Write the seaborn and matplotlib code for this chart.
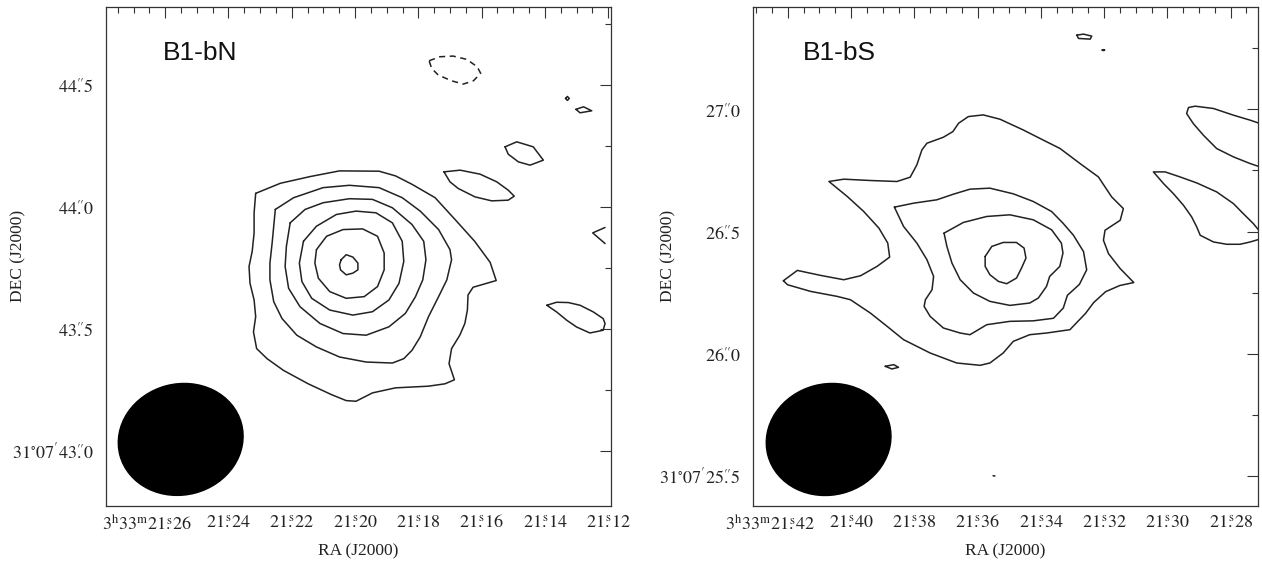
import numpy as np
import pandas as pd
import matplotlib
matplotlib.use("Agg")
import matplotlib.pyplot as plt
import seaborn as sns
from matplotlib.patches import Ellipse
from matplotlib.transforms import Affine2D, ScaledTranslation
from matplotlib.ticker import MultipleLocator

# ------------------------------------------------------------------
# DATA  (RA in seconds after 3h33m, Dec in arcsec after +31d07m)
# ------------------------------------------------------------------
# ---- B1-bN ----
BN_C1_RA = [21.2314, 21.2236, 21.2142, 21.2049, 21.1924, 21.1872, 21.1820, 21.1747, 21.1684, 21.1622,
            21.1573, 21.1554, 21.1627, 21.1643, 21.1645, 21.1653, 21.1669, 21.1695, 21.1703, 21.1686,
            21.1716, 21.1768, 21.1872, 21.1945, 21.1997, 21.2028, 21.2075, 21.2148, 21.2226, 21.2278,
            21.2311, 21.2321, 21.2314, 21.2319, 21.2332, 21.2335, 21.2325, 21.2319, 21.2319]
BN_C1_DEC = [44.0556, 44.0969, 44.1244, 44.1477, 44.1464, 44.1271, 44.0927, 44.0378, 43.9484, 43.8591,
             43.7725, 43.6982, 43.6707, 43.6391, 43.5773, 43.5223, 43.4742, 43.4192, 43.3573, 43.2914,
             43.2749, 43.2652, 43.2584, 43.2377, 43.2034, 43.2061, 43.2309, 43.2749, 43.3298, 43.3780,
             43.4192, 43.4879, 43.5498, 43.6185, 43.6872, 43.7560, 43.8178, 43.8934, 43.9759]
BN_C2_RA = [21.2252, 21.2194, 21.2101, 21.2018, 21.1924, 21.1851, 21.1794, 21.1736, 21.1700, 21.1695,
            21.1710, 21.1736, 21.1768, 21.1794, 21.1820, 21.1846, 21.1882, 21.1965, 21.2049, 21.2122,
            21.2184, 21.2231, 21.2257, 21.2269, 21.2269, 21.2262, 21.2257]
BN_C2_DEC = [43.9896, 44.0378, 44.0790, 44.0886, 44.0790, 44.0378, 43.9828, 43.9072, 43.8247, 43.7835,
             43.7010, 43.6323, 43.5498, 43.4673, 43.4123, 43.3780, 43.3601, 43.3642, 43.3848, 43.4261,
             43.4742, 43.5429, 43.6116, 43.7010, 43.7697, 43.8522, 43.9209]
BN_C3_RA = [21.2205, 21.2158, 21.2101, 21.2018, 21.1945, 21.1882, 21.1820, 21.1783, 21.1776, 21.1786,
            21.1809, 21.1841, 21.1893, 21.1965, 21.2038, 21.2111, 21.2174, 21.2210, 21.2221, 21.2217]
BN_C3_DEC = [43.9347, 43.9896, 44.0171, 44.0336, 44.0309, 43.9965, 43.9278, 43.8591, 43.7835, 43.7010,
             43.6323, 43.5635, 43.5085, 43.4742, 43.4810, 43.5223, 43.5910, 43.6666, 43.7560, 43.8384]
BN_C4_RA = [21.2163, 21.2122, 21.2059, 21.1997, 21.1934, 21.1882, 21.1851, 21.1846, 21.1861, 21.1893,
            21.1945, 21.2007, 21.2080, 21.2137, 21.2168, 21.2176]
BN_C4_DEC = [43.8591, 43.9209, 43.9690, 43.9828, 43.9759, 43.9347, 43.8591, 43.7766, 43.6872, 43.6185,
             43.5704, 43.5566, 43.5773, 43.6254, 43.6941, 43.7697]
BN_C5_RA = [21.2122, 21.2090, 21.2038, 21.1976, 21.1929, 21.1908, 21.1908, 21.1929, 21.1971, 21.2028,
            21.2080, 21.2116, 21.2127]
BN_C5_DEC = [43.8247, 43.8797, 43.9072, 43.9099, 43.8797, 43.8109, 43.7422, 43.6735, 43.6323, 43.6254,
             43.6529, 43.7079, 43.7697]
BN_C6_RA = [21.2044, 21.2028, 21.2007, 21.1991, 21.1991, 21.2007, 21.2028, 21.2046, 21.2049]
BN_C6_DEC = [43.7835, 43.8041, 43.7945, 43.7697, 43.7422, 43.7285, 43.7216, 43.7422, 43.7628]
# small positive islands
BN_S1_RA = [21.1719, 21.1668, 21.1605, 21.1552, 21.1516, 21.1497, 21.1516, 21.1568, 21.1621, 21.1674, 21.1700]
BN_S1_DEC = [44.1437, 44.1507, 44.1343, 44.1027, 44.0687, 44.0441, 44.0277, 44.0248, 44.0412, 44.0756, 44.1027]
BN_S2_RA = [21.1526, 21.1489, 21.1437, 21.1405, 21.1447, 21.1484, 21.1516]
BN_S2_DEC = [44.2463, 44.2668, 44.2463, 44.1917, 44.1712, 44.1848, 44.2163]
BN_S3_RA = [21.1335, 21.1329, 21.1323, 21.1329]
BN_S3_DEC = [44.4447, 44.4527, 44.4447, 44.4367]
BN_S4_RA = [21.1302, 21.1278, 21.1252, 21.1289]
BN_S4_DEC = [44.4000, 44.4104, 44.3940, 44.3858]
BN_S5_RA = [21.1394, 21.1363, 21.1326, 21.1289, 21.1247, 21.1216, 21.1210, 21.1216, 21.1258, 21.1300, 21.1331, 21.1363]
BN_S5_DEC = [43.5969, 43.6092, 43.6080, 43.5969, 43.5695, 43.5424, 43.5219, 43.4944, 43.4833, 43.5079, 43.5354, 43.5695]
BN_OPEN_RA = [21.1210, 21.1249, 21.1210]
BN_OPEN_DEC = [43.9157, 43.8935, 43.8500]
# negative (dashed) contour
BN_NEG_RA = [21.1766, 21.1732, 21.1690, 21.1647, 21.1614, 21.1603, 21.1626, 21.1658, 21.1695, 21.1737, 21.1758]
BN_NEG_DEC = [44.5991, 44.6155, 44.6183, 44.6048, 44.5745, 44.5474, 44.5170, 44.5035, 44.5170, 44.5404, 44.5679]

# ---- B1-bS ----
BS_C1_RA = [21.4214, 21.4170, 21.4096, 21.4023, 21.3970, 21.3918, 21.3878, 21.3884, 21.3912, 21.3960,
            21.4012, 21.4070, 21.4023, 21.3939, 21.3855, 21.3813, 21.3792, 21.3776, 21.3760, 21.3708,
            21.3678, 21.3660, 21.3629, 21.3582, 21.3529, 21.3456,
            21.3402, 21.3339, 21.3276, 21.3218, 21.3176, 21.3139, 21.3149, 21.3197, 21.3202, 21.3186,
            21.3149, 21.3118,
            21.3106, 21.3150, 21.3195, 21.3233, 21.3259,
            21.3308, 21.3382, 21.3435, 21.3487, 21.3519, 21.3561, 21.3592, 21.3666, 21.3750, 21.3834,
            21.3886, 21.3939, 21.4002, 21.4044, 21.4128, 21.4201]
BS_C1_DEC = [26.2985, 26.3408, 26.3203, 26.3026, 26.3190, 26.3572, 26.3953, 26.4526, 26.5140, 26.5821,
             26.6435, 26.7049, 26.7144, 26.7090, 26.7049, 26.7226, 26.7731, 26.8344, 26.8617, 26.8862,
             26.9094, 26.9435, 26.9708, 26.9776, 26.9599, 26.9162,
             26.8808, 26.8399, 26.7784, 26.7237, 26.6418, 26.5940, 26.5461, 26.5052, 26.4642, 26.4095,
             26.3481, 26.3071,
             26.2911, 26.2791, 26.2538, 26.2090, 26.1642,
             26.0981, 26.0844, 26.0776, 26.0504, 26.0026, 25.9617, 25.9522, 25.9617, 26.0026, 26.0572,
             26.1117, 26.1662, 26.2208, 26.2344, 26.2549, 26.2822]
BS_C2_RA = [21.3863, 21.3802, 21.3729, 21.3676, 21.3624, 21.3561, 21.3487, 21.3424, 21.3366, 21.3330,
            21.3297, 21.3265, 21.3255, 21.3278, 21.3316, 21.3329, 21.3360, 21.3424, 21.3498, 21.3571,
            21.3624, 21.3655, 21.3708, 21.3750, 21.3769, 21.3765, 21.3744, 21.3739, 21.3760, 21.3792,
            21.3834]
BS_C2_DEC = [26.5999, 26.6162, 26.6299, 26.6531, 26.6735, 26.6776, 26.6544, 26.6231, 26.5821, 26.5344,
             26.4851, 26.4179, 26.3433, 26.2836, 26.2388, 26.1866, 26.1448, 26.1343, 26.1322, 26.1185,
             26.0776, 26.0844, 26.1049, 26.1526, 26.1935, 26.2208, 26.2617, 26.3162, 26.3844, 26.4526,
             26.5208]
BS_C3_RA = [21.3706, 21.3645, 21.3571, 21.3498, 21.3424, 21.3366, 21.3335, 21.3330, 21.3340, 21.3372,
            21.3382, 21.3408, 21.3435, 21.3498, 21.3561, 21.3613, 21.3655, 21.3681, 21.3697]
BS_C3_DEC = [26.4935, 26.5372, 26.5617, 26.5685, 26.5481, 26.5072, 26.4526, 26.4117, 26.3572, 26.3162,
             26.2753, 26.2276, 26.2072, 26.1976, 26.2140, 26.2481, 26.3026, 26.3708, 26.4390]
BS_C4_RA = [21.3576, 21.3555, 21.3519, 21.3477, 21.3453, 21.3447, 21.3461, 21.3477, 21.3508, 21.3534,
            21.3561, 21.3576]
BS_C4_DEC = [26.3981, 26.4390, 26.4553, 26.4553, 26.4322, 26.3913, 26.3504, 26.3094, 26.2863, 26.2958,
             26.3231, 26.3572]
BS_S1_RA = [21.3892, 21.3865, 21.3850, 21.3871]
BS_S1_DEC = [25.9481, 25.9549, 25.9440, 25.9372]
BS_S2_RA = [21.3286, 21.3265, 21.3239, 21.3244, 21.3281]
BS_S2_DEC = [27.3043, 27.3084, 27.3002, 27.2879, 27.2907]
BS_S3_RA = [21.3206, 21.3202, 21.3198, 21.3202]
BS_S3_DEC = [27.2429, 27.2449, 27.2429, 27.2409]
BS_S4_RA = [21.3551, 21.3545]
BS_S4_DEC = [25.5000, 25.4990]
BS_E1_RA = [21.2707, 21.2738, 21.2791, 21.2854, 21.2912, 21.2933, 21.2939, 21.2918, 21.2886, 21.2844,
            21.2791, 21.2738, 21.2707]
BS_E1_DEC = [26.9423, 26.9560, 26.9765, 27.0038, 27.0133, 27.0079, 26.9833, 26.9423, 26.8945, 26.8399,
             26.8057, 26.7784, 26.7647]
BS_E2_RA = [21.2702, 21.2728, 21.2760, 21.2791, 21.2844, 21.2907, 21.2960, 21.3007, 21.3044, 21.3012,
            21.2981, 21.2949, 21.2923, 21.2907, 21.2896, 21.2854, 21.2812, 21.2770, 21.2738, 21.2702]
BS_E2_DEC = [26.4915, 26.5325, 26.5735, 26.6144, 26.6623, 26.6991, 26.7237, 26.7442, 26.7442, 26.6964,
             26.6554, 26.6076, 26.5598, 26.5188, 26.4847, 26.4573, 26.4478, 26.4478, 26.4573, 26.4710]

# synthesized beam (arcsec, deg)
BEAM_MAJ = 0.51
BEAM_MIN = 0.455
BEAM_PA = -15.0

# axis tick values
BN_RA_TICKS = [21.26, 21.24, 21.22, 21.20, 21.18, 21.16, 21.14, 21.12]
BN_DEC_TICKS = [43.0, 43.5, 44.0, 44.5]
BS_RA_TICKS = [21.42, 21.40, 21.38, 21.36, 21.34, 21.32, 21.30, 21.28]
BS_DEC_TICKS = [25.5, 26.0, 26.5, 27.0]

DEC_DEG = 31.12

# ------------------------------------------------------------------
sns.set_theme(style="white")
plt.rcParams["font.family"] = ["Liberation Serif", "DejaVu Serif"]
plt.rcParams["mathtext.fontset"] = "stix"

INK = "#222222"


def contour_df(parts):
    rows = []
    for cid, (ra, dec, closed) in enumerate(parts):
        ra = list(ra)
        dec = list(dec)
        if closed:
            ra = ra + ra[:1]
            dec = dec + dec[:1]
        for k, (r, d) in enumerate(zip(ra, dec)):
            rows.append((cid, k, r, d))
    return pd.DataFrame(rows, columns=["cid", "order", "ra", "dec"])


def draw(ax, parts, **kw):
    df = contour_df(parts)
    sns.lineplot(data=df, x="ra", y="dec", units="cid", estimator=None, sort=False,
                 ax=ax, legend=False, color=INK, linewidth=1.1, **kw)


def ra_label(v, first):
    s = f"{v:.2f}"
    whole, frac = s.split(".")
    if first:
        return r"$3^{\mathrm{h}}33^{\mathrm{m}}" + whole + r"\overset{\mathrm{s}}{.}" + frac + "$"
    return "$" + whole + r"\overset{\mathrm{s}}{.}" + frac + "$"


def dec_label(v, first):
    s = f"{v:.1f}"
    whole, frac = s.split(".")
    if first:
        return r"$31^{\circ}07^{\prime}" + whole + r"\overset{\prime\prime}{.}" + frac + "$"
    return "$" + whole + r"\overset{\prime\prime}{.}" + frac + "$"


def style_axes(fig, ax, xlim, ylim, xt, yt, title, title_x, label_x):
    ax.set_xlim(*xlim)
    ax.set_ylim(*ylim)
    ax.set_xticks(xt, [ra_label(v, i == 0) for i, v in enumerate(xt)])
    ax.set_yticks(yt, [dec_label(v, i == 0) for i, v in enumerate(yt)])
    ax.xaxis.set_minor_locator(MultipleLocator(0.005))
    ax.yaxis.set_minor_locator(MultipleLocator(0.25))
    ax.tick_params(which="both", direction="in", top=True, right=True, color="#333333",
                   width=0.8)
    ax.tick_params(which="major", length=8)
    ax.tick_params(which="minor", length=4)
    ax.tick_params(axis="x", which="major", labelsize=13, pad=6, labelcolor=INK)
    ax.tick_params(axis="y", which="major", labelsize=13, pad=9, labelcolor=INK)
    # first RA label (with h/m) extends to the left of its tick
    first = ax.get_xticklabels()[0]
    first.set_horizontalalignment("right")
    first.set_transform(first.get_transform() + ScaledTranslation(0.27, 0, fig.dpi_scale_trans))
    for sp in ax.spines.values():
        sp.set_color("#333333")
        sp.set_linewidth(0.9)
    ax.set_xlabel("RA (J2000)", fontsize=12.5, color=INK)
    ax.set_ylabel("DEC (J2000)", fontsize=12.5, color=INK)
    ax.xaxis.set_label_coords(0.5, -0.075)
    ax.yaxis.set_label_coords(label_x, 0.5)
    ax.text(title_x, 0.907, title, transform=ax.transAxes, ha="left", va="center",
            fontsize=19, family=["Liberation Sans", "DejaVu Sans"], color="#111111")


def add_beam(ax, ra_c, dec_c):
    scale_ra = 1.0 / (15.0 * np.cos(np.deg2rad(DEC_DEG)))
    tr = Affine2D().scale(scale_ra, 1.0).translate(ra_c, dec_c) + ax.transData
    e = Ellipse((0, 0), width=BEAM_MAJ, height=BEAM_MIN, angle=BEAM_PA, transform=tr,
                facecolor="black", edgecolor="black", zorder=3)
    ax.add_patch(e)


fig = plt.figure(figsize=(12.62, 5.71), dpi=100)
fig.patch.set_facecolor("white")
ax1 = fig.add_axes([0.0840, 0.1138, 0.4002, 0.8746])
ax2 = fig.add_axes([0.5967, 0.1138, 0.4002, 0.8746])

# ---- B1-bN ----
draw(ax1, [(BN_C1_RA, BN_C1_DEC, True), (BN_C2_RA, BN_C2_DEC, True), (BN_C3_RA, BN_C3_DEC, True),
           (BN_C4_RA, BN_C4_DEC, True), (BN_C5_RA, BN_C5_DEC, True), (BN_C6_RA, BN_C6_DEC, True),
           (BN_S1_RA, BN_S1_DEC, True), (BN_S2_RA, BN_S2_DEC, True), (BN_S3_RA, BN_S3_DEC, True),
           (BN_S4_RA, BN_S4_DEC, True), (BN_S5_RA, BN_S5_DEC, True), (BN_OPEN_RA, BN_OPEN_DEC, False)])
draw(ax1, [(BN_NEG_RA, BN_NEG_DEC, True)], linestyle=(0, (4, 3)))
style_axes(fig, ax1, (21.2787, 21.1191), (42.774, 44.821), BN_RA_TICKS, BN_DEC_TICKS,
           "B1-bN", 0.113, -0.158)
add_beam(ax1, 21.2551, 43.047)

# ---- B1-bS ----
draw(ax2, [(BS_C1_RA, BS_C1_DEC, True), (BS_C2_RA, BS_C2_DEC, True), (BS_C3_RA, BS_C3_DEC, True),
           (BS_C4_RA, BS_C4_DEC, True), (BS_S1_RA, BS_S1_DEC, True), (BS_S2_RA, BS_S2_DEC, True),
           (BS_S3_RA, BS_S3_DEC, True), (BS_S4_RA, BS_S4_DEC, False),
           (BS_E1_RA, BS_E1_DEC, False), (BS_E2_RA, BS_E2_DEC, False)])
style_axes(fig, ax2, (21.431, 21.2713), (25.376, 27.421), BS_RA_TICKS, BS_DEC_TICKS,
           "B1-bS", 0.099, -0.152)
add_beam(ax2, 21.4071, 25.6485)

fig.savefig("out.png", dpi=100, facecolor="white")
